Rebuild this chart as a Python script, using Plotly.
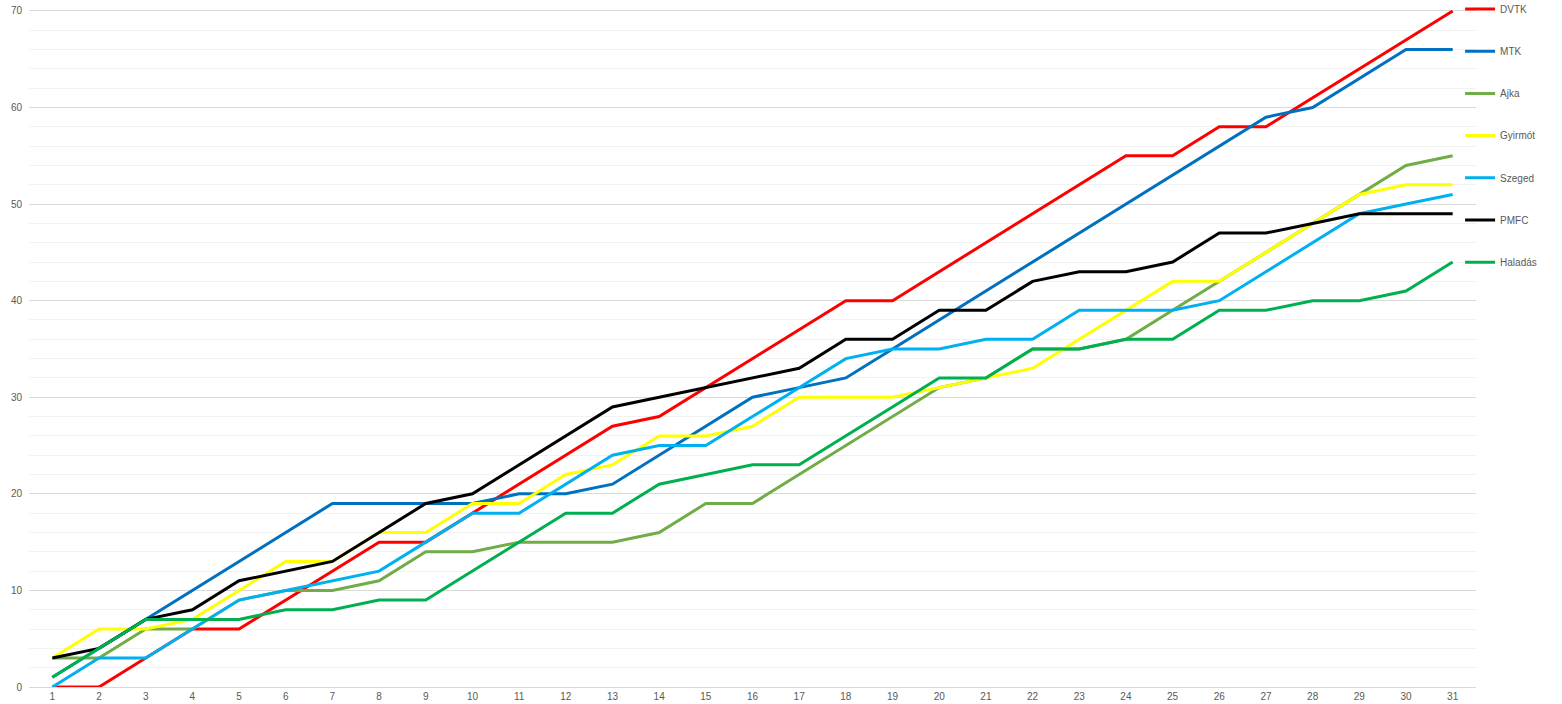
import plotly.graph_objects as go

rounds = list(range(1, 32))

dvtk = [0, 0, 3, 6, 6, 9, 12, 15, 15, 18, 21, 24, 27, 28, 31, 34, 37, 40, 40, 43, 46, 49, 52, 55, 55, 58, 58, 61, 64, 67, 70]
mtk = [1, 4, 7, 10, 13, 16, 19, 19, 19, 19, 20, 20, 21, 24, 27, 30, 31, 32, 35, 38, 41, 44, 47, 50, 53, 56, 59, 60, 63, 66, 66]
ajka = [3, 3, 6, 6, 9, 10, 10, 11, 14, 14, 15, 15, 15, 16, 19, 19, 22, 25, 28, 31, 32, 35, 35, 36, 39, 42, 45, 48, 51, 54, 55]
gyirmot = [3, 6, 6, 7, 10, 13, 13, 16, 16, 19, 19, 22, 23, 26, 26, 27, 30, 30, 30, 31, 32, 33, 36, 39, 42, 42, 45, 48, 51, 52, 52]
szeged = [0, 3, 3, 6, 9, 10, 11, 12, 15, 18, 18, 21, 24, 25, 25, 28, 31, 34, 35, 35, 36, 36, 39, 39, 39, 40, 43, 46, 49, 50, 51]
pmfc = [3, 4, 7, 8, 11, 12, 13, 16, 19, 20, 23, 26, 29, 30, 31, 32, 33, 36, 36, 39, 39, 42, 43, 43, 44, 47, 47, 48, 49, 49, 49]
haladas = [1, 4, 7, 7, 7, 8, 8, 9, 9, 12, 15, 18, 18, 21, 22, 23, 23, 26, 29, 32, 32, 35, 35, 36, 36, 39, 39, 40, 40, 41, 44]

series = [
    ("DVTK", dvtk, "#FF0000"),
    ("MTK", mtk, "#0070C0"),
    ("Ajka", ajka, "#70AD47"),
    ("Gyirmót", gyirmot, "#FFFF00"),
    ("Szeged", szeged, "#00B0F0"),
    ("PMFC", pmfc, "#000000"),
    ("Haladás", haladas, "#00B050"),
]

fig = go.Figure()
for name, vals, color in series:
    fig.add_trace(go.Scatter(
        x=rounds, y=vals, name=name, mode="lines",
        line=dict(color=color, width=3),
        legendgroup=name,
    ))

fig.update_layout(
    width=1562, height=704,
    margin=dict(l=29, r=86, t=9.07, b=17, autoexpand=False),
    plot_bgcolor="white", paper_bgcolor="white",
    font=dict(family="Liberation Sans, Arial, sans-serif", size=10, color="#595959"),
    showlegend=True,
    legend=dict(
        x=0.989, y=1.0214, xanchor="left", yanchor="top",
        tracegroupgap=23.2, itemwidth=30,
        font=dict(size=10, color="#595959"),
        bgcolor="rgba(0,0,0,0)",
    ),
    xaxis=dict(
        range=[0.5, 31.5], tickmode="array", tickvals=rounds,
        ticktext=[str(r) for r in rounds],
        showgrid=False, zeroline=False, showline=True, linecolor="#D9D9D9", linewidth=1,
        automargin=False, ticks="", tickfont=dict(size=10, color="#595959"),
    ),
    yaxis=dict(
        range=[0, 70.2], tickvals=[0, 10, 20, 30, 40, 50, 60, 70],
        showgrid=True, gridcolor="#D9D9D9", gridwidth=1,
        zeroline=False, showline=False, ticks="", automargin=False,
        ticklabeloverflow="allow",
        tickfont=dict(size=10, color="#595959"),
        minor=dict(dtick=2, showgrid=True, gridcolor="#F2F2F2", gridwidth=1),
        ticklabelstandoff=6,
    ),
)

fig.write_html(
    "out.html",
    config={"displayModeBar": False},
    post_script="document.body.style.margin='0';",
)
